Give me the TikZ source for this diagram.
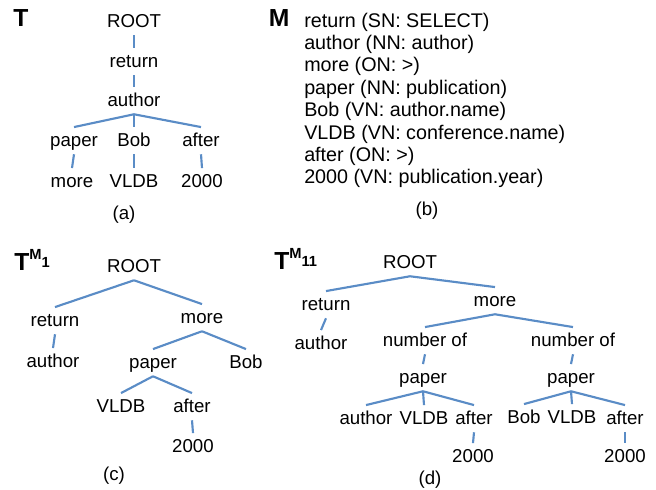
\documentclass[tikz,border=0pt]{standalone}
\usepackage{fontspec}
\setmainfont{Liberation Sans}
\definecolor{edgeblue}{RGB}{90,140,198}
\begin{document}
\begin{tikzpicture}[x=0.75pt,y=-0.75pt,
  lbl/.style={font=\fontsize{14}{16}\selectfont, inner xsep=0pt, inner ysep=4pt, text height=10pt, text depth=2pt, anchor=base},
  listline/.style={font=\fontsize{14.8}{17}\selectfont, inner sep=0pt, anchor=base west},
  subcap/.style={font=\fontsize{14}{16}\selectfont, inner sep=0pt, anchor=base},
  paneltitle/.style={font=\fontsize{18.5}{22}\selectfont\bfseries, inner sep=0pt, anchor=base west},
  edge/.style={draw=edgeblue, line width=1.6pt}]
\useasboundingbox (0,0) rectangle (656,489);

% ---------- (a) ----------
\node[paneltitle] (tA) at (13,26.5) {T};
\node[lbl] (aroot) at (134,27) {ROOT};
\node[lbl] (aret) at (134,67) {return};
\node[lbl] (aauth) at (134,106) {author};
\node[lbl] (apaper) at (74,146) {paper};
\node[lbl] (abob) at (134,146) {Bob};
\node[lbl] (aafter) at (201,146) {after};
\node[lbl] (amore) at (72,187) {more};
\node[lbl] (avldb) at (134,187) {VLDB};
\node[lbl] (a2000) at (202,187) {2000};
\node[subcap] (capa) at (124,219) {(a)};
\draw[edge] (aroot.south) -- (aret.north);
\draw[edge] (aret.south) -- (aauth.north);
\draw[edge] (aauth.south) -- (apaper.north);
\draw[edge] (aauth.south) -- (abob.north);
\draw[edge] (aauth.south) -- (aafter.north);
\draw[edge] (apaper.south) -- (amore.north);
\draw[edge] (abob.south) -- (avldb.north);
\draw[edge] (aafter.south) -- (a2000.north);

% ---------- (b) ----------
\node[paneltitle] (tM) at (268.5,26.5) {M};
\node[listline] (b1) at (304,27) {return (SN: SELECT)};
\node[listline] (b2) at (304,49.4) {author (NN: author)};
\node[listline] (b3) at (304,71.8) {more (ON: >)};
\node[listline] (b4) at (304,94.2) {paper (NN: publication)};
\node[listline] (b5) at (304,116.6) {Bob (VN: author.name)};
\node[listline] (b6) at (304,139) {VLDB (VN: conference.name)};
\node[listline] (b7) at (304,161.4) {after (ON: >)};
\node[listline] (b8) at (304,183.8) {2000 (VN: publication.year)};
\node[subcap] (capb) at (427,215) {(b)};

% ---------- (c) ----------
\node[paneltitle] (tC) at (14,270) {T\raisebox{8pt}{\fontsize{11}{13}\selectfont M}\raisebox{2pt}{\fontsize{11}{13}\selectfont 1}};
\node[lbl] (croot) at (134,272) {ROOT};
\node[lbl] (cret) at (55,326) {return};
\node[lbl] (cmore) at (202,323) {more};
\node[lbl] (cauth) at (53,367) {author};
\node[lbl] (cpaper) at (153,368) {paper};
\node[lbl] (cbob) at (246,368) {Bob};
\node[lbl] (cvldb) at (121,412) {VLDB};
\node[lbl] (cafter) at (192,412) {after};
\node[lbl] (c2000) at (193,452) {2000};
\node[subcap] (capc) at (114,480) {(c)};
\draw[edge] (croot.south) -- (cret.north);
\draw[edge] (croot.south) -- (cmore.north);
\draw[edge] (cret.south) -- (cauth.north);
\draw[edge] (cmore.south) -- (cpaper.north);
\draw[edge] (cmore.south) -- (cbob.north);
\draw[edge] (cpaper.south) -- (cvldb.north);
\draw[edge] (cpaper.south) -- (cafter.north);
\draw[edge] (cafter.south) -- (c2000.north);

% ---------- (d) ----------
\node[paneltitle] (tD) at (274,269) {T\raisebox{8pt}{\fontsize{11}{13}\selectfont M}\raisebox{2pt}{\fontsize{11}{13}\selectfont 11}};
\node[lbl] (droot) at (410,268) {ROOT};
\node[lbl] (dret) at (326,310) {return};
\node[lbl] (dauth) at (321,349) {author};
\node[lbl] (dmore) at (495,306) {more};
\node[lbl] (dnl) at (425,346) {number of};
\node[lbl] (dnr) at (573,346) {number of};
\node[lbl] (dpl) at (423,383) {paper};
\node[lbl] (dpr) at (571,383) {paper};
\node[lbl] (dl1) at (366,424) {author};
\node[lbl] (dl2) at (424,424) {VLDB};
\node[lbl] (dl3) at (474,424) {after};
\node[lbl] (dr1) at (524,423) {Bob};
\node[lbl] (dr2) at (572,423) {VLDB};
\node[lbl] (dr3) at (625,424) {after};
\node[lbl] (dl2000) at (473,462) {2000};
\node[lbl] (dr2000) at (625,462) {2000};
\node[subcap] (capd) at (430,484) {(d)};
\draw[edge] (droot.south) -- (dret.north);
\draw[edge] (droot.south) -- (dmore.north);
\draw[edge] (dret.south) -- (dauth.north);
\draw[edge] (dmore.south) -- (dnl.north);
\draw[edge] (dmore.south) -- (dnr.north);
\draw[edge] (dnl.south) -- (dpl.north);
\draw[edge] (dnr.south) -- (dpr.north);
\draw[edge] (dpl.south) -- (dl1.north);
\draw[edge] (dpl.south) -- (dl2.north);
\draw[edge] (dpl.south) -- (dl3.north);
\draw[edge] (dpr.south) -- (dr1.north);
\draw[edge] (dpr.south) -- (dr2.north);
\draw[edge] (dpr.south) -- (dr3.north);
\draw[edge] (dl3.south) -- (dl2000.north);
\draw[edge] (dr3.south) -- (dr2000.north);
\end{tikzpicture}
\end{document}
